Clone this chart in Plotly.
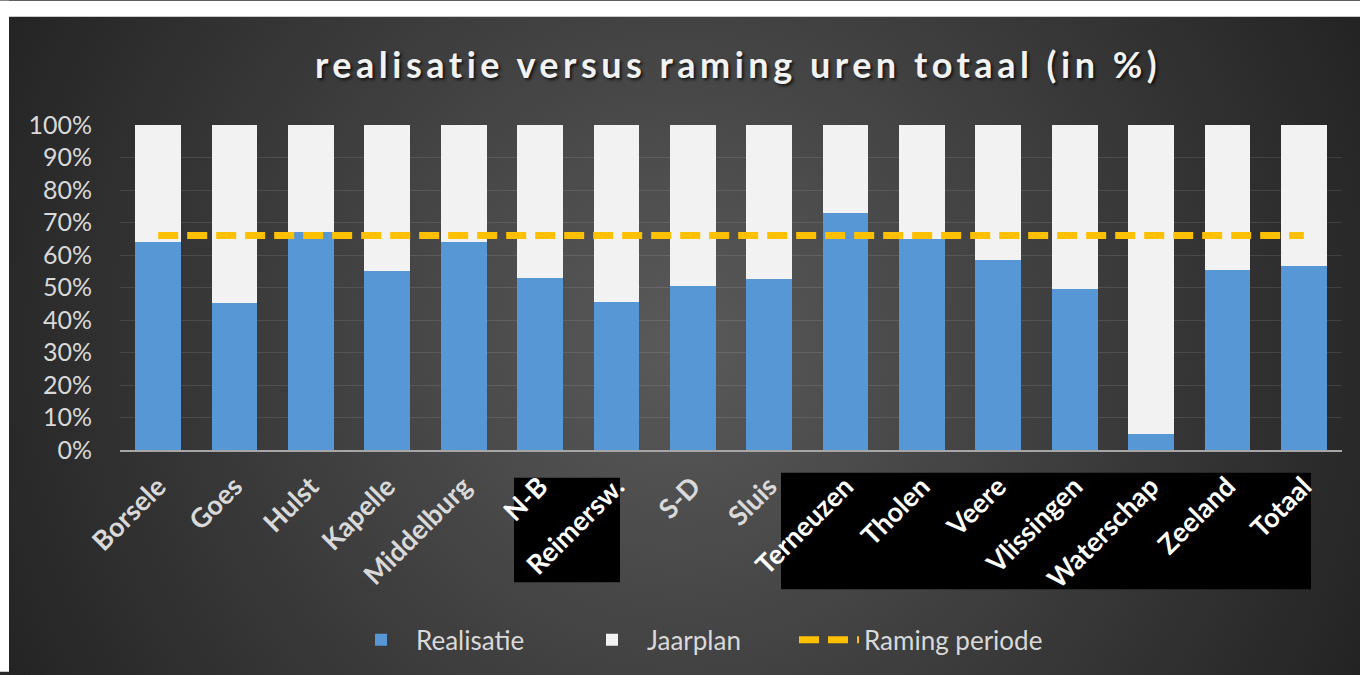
import base64
import plotly.graph_objects as go

# ---------------- data ----------------
categories = ["Borsele", "Goes", "Hulst", "Kapelle", "Middelburg", "N-B", "Reimersw.",
              "S-D", "Sluis", "Terneuzen", "Tholen", "Veere", "Vlissingen",
              "Waterschap", "Zeeland", "Totaal"]
realisatie = [64, 45.3, 67, 55, 64, 53, 45.5, 50.5, 52.5, 73, 65, 58.5, 49.5, 5, 55.5, 56.5]
jaarplan = [36, 54.7, 33, 45, 36, 47, 54.5, 49.5, 47.5, 27, 35, 41.5, 50.5, 95, 44.5, 43.5]
raming = [66, 66, 66, 66, 66, 66, 66, 66, 66, 66, 66, 66, 66, 66, 66, 66]
y_ticks = [0, 10, 20, 30, 40, 50, 60, 70, 80, 90, 100]
y_ticklabels = ["0%", "10%", "20%", "30%", "40%", "50%", "60%", "70%", "80%", "90%", "100%"]
highlighted = ["N-B", "Reimersw.", "Terneuzen", "Tholen", "Veere", "Vlissingen",
               "Waterschap", "Zeeland", "Totaal"]

# ---------------- geometry (screen pixels; page margin removed below) ----------------
W, H = 1360, 675
SL, SR, ST, SB = 120, 1342, 125, 452     # plot area


def px_x(sx):
    return (sx - SL) / (SR - SL)


def px_y(sy):
    return (SB - sy) / (SB - ST)


# background radial gradient (chart area from x 9, y 16 to beyond the page edge)
BX0, BY0, BX1, BY1 = 9, 16, W + 40, H + 40
bw, bh = BX1 - BX0, BY1 - BY0
svg = (f'<svg xmlns="http://www.w3.org/2000/svg" width="{bw}" height="{bh}" '
       f'viewBox="0 0 {bw} {bh}" preserveAspectRatio="none"><defs>'
       f'<radialGradient id="g" gradientUnits="userSpaceOnUse" cx="{680 - BX0}" cy="{345 - BY0}" r="760">'
       '<stop offset="0" stop-color="#5a5a5a"/><stop offset="1" stop-color="#232323"/>'
       '</radialGradient></defs>'
       f'<rect width="{bw}" height="{bh}" fill="url(#g)"/></svg>')
bg_src = "data:image/svg+xml;base64," + base64.b64encode(svg.encode()).decode()

FONT = "Lato, 'Open Sans', sans-serif"
GREY = "#d9d9d9"

ticktext = [f'<span style="color:#ffffff">{c}</span>' if c in highlighted
            else f'<span style="color:{GREY}">{c}</span>' for c in categories]

fig = go.Figure()
fig.add_trace(go.Bar(x=categories, y=realisatie, name="Realisatie", legend="legend",
                     marker=dict(color="#5797d6", line=dict(width=0))))
fig.add_trace(go.Bar(x=categories, y=jaarplan, name="Jaarplan", legend="legend2",
                     marker=dict(color="#f2f2f2", line=dict(width=0))))
fig.add_trace(go.Scatter(x=categories, y=raming, name="Raming periode", mode="lines",
                         legend="legend3",
                         line=dict(color="#ffc000", width=7, dash="20px,9px")))

shapes = [
    # white page border (top and left) around the dark chart area
    dict(type="rect", xref="paper", yref="paper", layer="below",
         x0=px_x(0), x1=px_x(W), y0=px_y(BY0), y1=px_y(0),
         fillcolor="#ffffff", line=dict(width=0)),
    dict(type="rect", xref="paper", yref="paper", layer="below",
         x0=px_x(0), x1=px_x(BX0), y0=px_y(H), y1=px_y(0),
         fillcolor="#ffffff", line=dict(width=0)),
    # black boxes behind some labels
    dict(type="rect", xref="paper", yref="paper", layer="below",
         x0=px_x(514), x1=px_x(620), y0=px_y(585), y1=px_y(480),
         fillcolor="#000000", line=dict(width=0)),
    dict(type="rect", xref="paper", yref="paper", layer="below",
         x0=px_x(781), x1=px_x(1311), y0=px_y(592), y1=px_y(475),
         fillcolor="#000000", line=dict(width=0)),
]


def legend_at(sx):
    return dict(orientation="h", x=px_x(sx), xanchor="left", y=px_y(643), yanchor="middle",
                font=dict(family=FONT, size=26, color=GREY), bgcolor="rgba(0,0,0,0)",
                itemwidth=60)


fig.update_layout(
    width=W, height=H,
    margin=dict(l=SL, r=W - SR, t=ST, b=H - SB, pad=0),
    paper_bgcolor="#292929",
    plot_bgcolor="rgba(0,0,0,0)",
    barmode="stack",
    bargap=0.4,
    font=dict(family=FONT, color=GREY),
    title=dict(
        text='<b><span style="letter-spacing:4.5px">realisatie versus raming uren totaal (in %)</span></b>',
        x=738 / W, xanchor="center", xref="container",
        y=1 - 65 / H, yanchor="middle", yref="container",
        font=dict(family=FONT, size=36, color="#f2f2f2",
                  shadow="2px 2px 3px rgba(0,0,0,0.7)"),
    ),
    xaxis=dict(
        tickmode="array", tickvals=categories, ticktext=ticktext,
        tickangle=-45, tickfont=dict(family=FONT, size=27, weight="bold"),
        showgrid=False, showline=True, linecolor="#a6a6a6", linewidth=2,
        ticks="", ticklabelstandoff=8, range=[-0.5, 15.5],
    ),
    yaxis=dict(
        range=[0, 100], tickmode="array", tickvals=y_ticks, ticktext=y_ticklabels,
        tickfont=dict(family=FONT, size=25, color=GREY),
        showgrid=True, gridcolor="rgba(255,255,255,0.10)", gridwidth=1,
        zeroline=False, showline=False, ticks="", ticklabelstandoff=27,
    ),
    legend=legend_at(346),
    legend2=legend_at(577),
    legend3=legend_at(794),
    images=[dict(source=bg_src, xref="paper", yref="paper",
                 x=px_x(BX0), y=px_y(BY0), sizex=bw / (SR - SL), sizey=bh / (SB - ST),
                 xanchor="left", yanchor="top", sizing="stretch", layer="below")],
    shapes=shapes,
    showlegend=True,
)

fig.write_html("out.html", config={"responsive": False, "displayModeBar": False},
               post_script="document.body.style.margin='0';document.body.style.overflow='hidden';")
